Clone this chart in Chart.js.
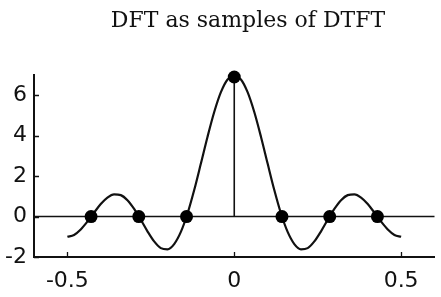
<!DOCTYPE html>
<html>
<head>
<meta charset="utf-8">
<script src="https://cdn.jsdelivr.net/npm/chart.js@4/dist/chart.umd.min.js"></script>
<style>
  html, body { margin: 0; padding: 0; background: #ffffff; }
  #wrap { width: 441px; height: 297px; position: relative; }
</style>
</head>
<body>
<div id="wrap"><canvas id="c" width="441" height="297"></canvas></div>
<script>
// ---- data ----
const titleText = "DFT as samples of DTFT";

// DTFT curve (frequency, value)
const curveFreq = [
  -0.50, -0.48, -0.46, -0.44, -0.42, -0.40, -0.38, -0.36, -0.34, -0.32,
  -0.30, -0.28, -0.26, -0.24, -0.22, -0.20, -0.18, -0.16, -0.14, -0.12,
  -0.10, -0.08, -0.06, -0.04, -0.02, 0.00,
  0.02, 0.04, 0.06, 0.08, 0.10, 0.12, 0.14, 0.16, 0.18, 0.20,
  0.22, 0.24, 0.26, 0.28, 0.30, 0.32, 0.34, 0.36, 0.38, 0.40,
  0.42, 0.44, 0.46, 0.48, 0.50
];
const curveVal = [
  -1.00, -0.91, -0.64, -0.25, 0.19, 0.62, 0.94, 1.10, 1.06, 0.81,
  0.38, -0.16, -0.73, -1.23, -1.56, -1.62, -1.36, -0.76, 0.15, 1.31,
  2.62, 3.95, 5.17, 6.15, 6.78, 6.95,
  6.78, 6.15, 5.17, 3.95, 2.62, 1.31, 0.15, -0.76, -1.36, -1.62,
  -1.56, -1.23, -0.73, -0.16, 0.38, 0.81, 1.06, 1.10, 0.94, 0.62,
  0.19, -0.25, -0.64, -0.91, -1.00
];

// DFT samples
const dftFreq = [-0.429, -0.286, -0.143, 0.000, 0.143, 0.286, 0.429];
const dftVal  = [0, 0, 0, 6.9, 0, 0, 0];

// axis ticks
const xTicks = [-0.5, 0, 0.5];
const yTicks = [-2, 0, 2, 4, 6];
const xRange = [-0.6, 0.6];
const yRange = [-2, 7];

// ---- build datasets ----
const curveData = curveFreq.map((f, i) => ({ x: f, y: curveVal[i] }));
const dftData = dftFreq.map((f, i) => ({ x: f, y: dftVal[i] }));
const zeroLine = [{ x: xRange[0], y: 0 }, { x: xRange[1], y: 0 }];
const stemData = [{ x: dftFreq[3], y: 0 }, { x: dftFreq[3], y: dftVal[3] }];

const titlePlugin = {
  id: 'serifTitle',
  afterDraw(chart) {
    const ctx = chart.ctx;
    ctx.save();
    ctx.fillStyle = '#111';
    ctx.font = '22px "DejaVu Serif"';
    ctx.textAlign = 'center';
    ctx.textBaseline = 'alphabetic';
    ctx.fillText(titleText, 248, 27);
    ctx.restore();
  }
};

// inward tick marks, placed through the chart's own scales
const innerTicks = {
  id: 'innerTicks',
  afterDraw(chart) {
    const ctx = chart.ctx;
    const xs = chart.scales.x, ys = chart.scales.y;
    const a = chart.chartArea;
    ctx.save();
    ctx.strokeStyle = '#111';
    ctx.lineWidth = 1.3;
    ctx.beginPath();
    xTicks.forEach(v => {
      const px = Math.round(xs.getPixelForValue(v)) + 0.5;
      ctx.moveTo(px, a.bottom);
      ctx.lineTo(px, a.bottom - 5);
    });
    yTicks.forEach(v => {
      const py = Math.round(ys.getPixelForValue(v)) + 0.5;
      ctx.moveTo(a.left, py);
      ctx.lineTo(a.left + 5, py);
    });
    ctx.stroke();
    ctx.restore();
  }
};

new Chart(document.getElementById('c'), {
  type: 'scatter',
  data: {
    datasets: [
      {
        label: 'DFT',
        data: dftData,
        showLine: false,
        pointRadius: 6.5,
        pointBackgroundColor: '#000',
        pointBorderColor: '#000',
        pointBorderWidth: 0,
        clip: false
      },
      {
        label: 'stem',
        data: stemData,
        showLine: true,
        borderColor: '#111',
        borderWidth: 1.6,
        pointRadius: 0
      },
      {
        label: 'DTFT',
        data: curveData,
        showLine: true,
        borderColor: '#111',
        borderWidth: 2.2,
        pointRadius: 0,
        cubicInterpolationMode: 'monotone'
      },
      {
        label: 'zero',
        data: zeroLine,
        showLine: true,
        borderColor: '#111',
        borderWidth: 1.6,
        pointRadius: 0,
        clip: false
      }
    ]
  },
  options: {
    responsive: false,
    animation: false,
    devicePixelRatio: 1,
    layout: { padding: { top: 75, right: 3, left: 0, bottom: 0 } },
    plugins: {
      legend: { display: false },
      tooltip: { enabled: false },
      title: { display: false }
    },
    scales: {
      x: {
        type: 'linear',
        min: xRange[0],
        max: xRange[1],
        afterBuildTicks: (s) => { s.ticks = xTicks.map(v => ({ value: v })); },
        afterFit: (s) => { s.height = 40; },
        border: { display: true, color: '#111', width: 2 },
        grid: { display: false, drawTicks: false, tickLength: 0 },
        ticks: {
          color: '#111',
          font: { family: 'DejaVu Sans', size: 22 },
          padding: 11,
          maxRotation: 0,
          callback: (v) => String(v)
        }
      },
      y: {
        type: 'linear',
        min: yRange[0],
        max: yRange[1],
        afterBuildTicks: (s) => { s.ticks = yTicks.map(v => ({ value: v })); },
        afterFit: (s) => { s.width = 34; },
        border: { display: true, color: '#111', width: 2 },
        grid: { display: false, drawTicks: false, tickLength: 0 },
        ticks: {
          color: '#111',
          font: { family: 'DejaVu Sans', size: 22 },
          padding: 7,
          callback: (v) => String(v)
        }
      }
    }
  },
  plugins: [titlePlugin, innerTicks]
});
</script>
</body>
</html>
